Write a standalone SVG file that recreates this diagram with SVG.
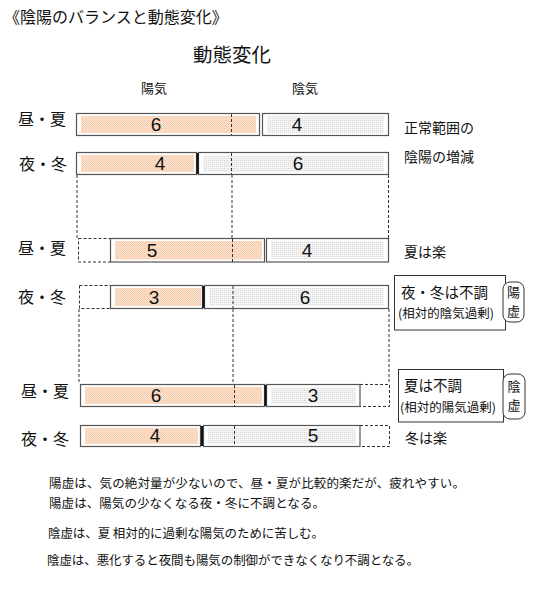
<svg xmlns="http://www.w3.org/2000/svg" width="533" height="600" viewBox="0 0 533 600">
<defs>
<pattern id="py" width="2" height="2" patternUnits="userSpaceOnUse"><rect width="2" height="2" fill="#fce4c6"/><rect width="1" height="1" fill="#f6c2b4"/><rect x="1" y="1" width="1" height="1" fill="#f9d4bc"/></pattern>
<pattern id="pg" width="2" height="2" patternUnits="userSpaceOnUse"><rect width="2" height="2" fill="#f5f5f5"/><rect width="1" height="1" fill="#d8d8d8"/></pattern>
</defs>
<style>
text{font-family:"Noto Sans CJK JP","Noto Sans",sans-serif;fill:#111}
.num{font-family:"Liberation Sans",Arial,sans-serif;font-size:19px;text-anchor:middle}
.lbl{font-size:16px}
.bar{fill:#fff;stroke:#555;stroke-width:1.2}
.y{fill:url(#py)}
.g{fill:url(#pg)}
.dash{fill:none;stroke:#333;stroke-width:1;stroke-dasharray:3 2}
.sep{stroke:#111;stroke-width:2.2}
.box{fill:#fff;stroke:#333;stroke-width:1}
.side{font-size:14px}
.small{font-size:12.5px}
.note{font-size:12.5px}
.v{font-size:13px;text-anchor:middle}
</style>
<text x="4" y="23" style="font-size:16px">《陰陽のバランスと動態変化》</text>
<text x="193" y="62" style="font-size:19.5px">動態変化</text>
<text x="141" y="93" style="font-size:13px">陽気</text>
<text x="292" y="93" style="font-size:13px">陰気</text>

<g id="guides">
<line class="dash" x1="77" y1="175" x2="77" y2="238"/>
<line class="dash" x1="232" y1="175" x2="232" y2="238"/>
<line class="dash" x1="388.5" y1="175" x2="388.5" y2="238"/>
<line class="dash" x1="79" y1="309" x2="79" y2="384"/>
<line class="dash" x1="233" y1="309" x2="233" y2="384"/>
<line class="dash" x1="389" y1="309" x2="389" y2="384"/>
</g>

<g id="row1">
<text class="lbl" x="18" y="125">昼・夏</text>
<rect class="bar" x="76.5" y="113.5" width="183" height="22"/>
<rect class="y" x="81" y="116" width="175" height="17"/>
<rect class="bar" x="262.5" y="113.5" width="126" height="22"/>
<rect class="g" x="267" y="116" width="117" height="17"/>
<line class="dash" x1="231.5" y1="114" x2="231.5" y2="135"/>
<text class="num" x="156" y="131">6</text>
<text class="num" x="297" y="131">4</text>
</g>

<g id="row2">
<text class="lbl" x="19" y="170">夜・冬</text>
<rect class="bar" x="76.5" y="152.5" width="120" height="22"/>
<rect class="y" x="81" y="155" width="113" height="17"/>
<rect class="bar" x="198.5" y="152.5" width="190" height="22"/>
<rect class="g" x="203" y="155" width="181" height="17"/>
<line class="sep" x1="197.5" y1="153" x2="197.5" y2="174"/>
<line class="dash" x1="231.5" y1="153" x2="231.5" y2="174"/>
<text class="num" x="160" y="170">4</text>
<text class="num" x="298" y="170">6</text>
</g>

<g id="row3">
<text class="lbl" x="18" y="254">昼・夏</text>
<rect class="dash" x="78.5" y="238.5" width="32" height="23.5"/>
<rect class="bar" x="110.5" y="238.5" width="154" height="23.5"/>
<rect class="y" x="115" y="241" width="147" height="18.5"/>
<rect class="bar" x="266.5" y="238.5" width="122" height="23.5"/>
<rect class="g" x="271" y="241" width="113" height="18.5"/>
<line class="dash" x1="232.5" y1="239" x2="232.5" y2="262"/>
<text class="num" x="152" y="257">5</text>
<text class="num" x="307" y="257">4</text>
<text class="side" x="404" y="257">夏は楽</text>
</g>

<g id="row4">
<text class="lbl" x="18" y="303">夜・冬</text>
<rect class="dash" x="79.5" y="285.5" width="31" height="23"/>
<rect class="bar" x="110.5" y="285.5" width="92" height="23"/>
<rect class="y" x="115" y="288" width="86" height="18"/>
<rect class="bar" x="204.5" y="285.5" width="184" height="23"/>
<rect class="g" x="209" y="288" width="175" height="18"/>
<line class="sep" x1="203.5" y1="286" x2="203.5" y2="308"/>
<line class="dash" x1="233" y1="286" x2="233" y2="308"/>
<text class="num" x="154" y="304">3</text>
<text class="num" x="305" y="304">6</text>
</g>

<g id="row5">
<text class="lbl" x="21" y="397">昼・夏</text>
<rect class="bar" x="80.5" y="384.5" width="184" height="22"/>
<rect class="y" x="85" y="387" width="177" height="17"/>
<rect class="bar" x="266.5" y="384.5" width="93.5" height="22"/>
<rect class="g" x="271" y="387" width="85" height="17"/>
<line class="sep" x1="265.5" y1="385" x2="265.5" y2="406"/>
<line class="dash" x1="234.5" y1="385" x2="234.5" y2="406"/>
<path class="dash" d="M360 384.5H389.5V406.5H360"/>
<text class="num" x="156" y="402">6</text>
<text class="num" x="313" y="402">3</text>
</g>

<g id="row6">
<text class="lbl" x="21" y="445">夜・冬</text>
<rect class="bar" x="80.5" y="425.5" width="120" height="21"/>
<rect class="y" x="85" y="428" width="113" height="16"/>
<rect class="bar" x="203.5" y="425.5" width="156.5" height="21"/>
<rect class="g" x="208" y="428" width="148" height="16"/>
<line class="sep" x1="202" y1="426" x2="202" y2="446"/>
<line class="dash" x1="234.5" y1="426" x2="234.5" y2="446"/>
<path class="dash" d="M360 425.5H389.5V446.5H360"/>
<text class="num" x="155" y="442">4</text>
<text class="num" x="313" y="442">5</text>
<text class="side" x="405" y="443">冬は楽</text>
</g>

<g id="normal-note">
<text class="side" x="404" y="133">正常範囲の</text>
<text class="side" x="404" y="162">陰陽の増減</text>
</g>

<g id="yang-deficiency">
<rect class="box" x="394.5" y="275.5" width="111" height="54.5"/>
<text x="401" y="297.5" style="font-size:14.5px">夜・冬は不調</text>
<text class="small" x="398" y="318">(相対的陰気過剰)</text>
<rect class="box" x="503" y="282" width="21" height="40" rx="7"/>
<text class="v" x="513.5" y="297">陽</text>
<text class="v" x="513.5" y="316">虚</text>
</g>

<g id="yin-deficiency">
<rect class="box" x="398.5" y="369.5" width="105" height="52.5"/>
<text x="404" y="390.5" style="font-size:14.5px">夏は不調</text>
<text class="small" x="400" y="412">(相対的陽気過剰)</text>
<rect class="box" x="503" y="374" width="22" height="45" rx="7"/>
<text class="v" x="514" y="391">陰</text>
<text class="v" x="514" y="410">虚</text>
</g>

<g id="notes">
<text class="note" x="49" y="488" textLength="416" lengthAdjust="spacing">陽虚は、気の絶対量が少ないので、昼・夏が比較的楽だが、疲れやすい。</text>
<text class="note" x="49" y="508" textLength="276" lengthAdjust="spacing">陽虚は、陽気の少なくなる夜・冬に不調となる。</text>
<text class="note" x="48" y="538" textLength="276" lengthAdjust="spacing">陰虚は、夏 相対的に過剰な陽気のために苦しむ。</text>
<text class="note" x="47" y="565" textLength="372" lengthAdjust="spacing">陰虚は、悪化すると夜間も陽気の制御ができなくなり不調となる。</text>
</g>
</svg>
